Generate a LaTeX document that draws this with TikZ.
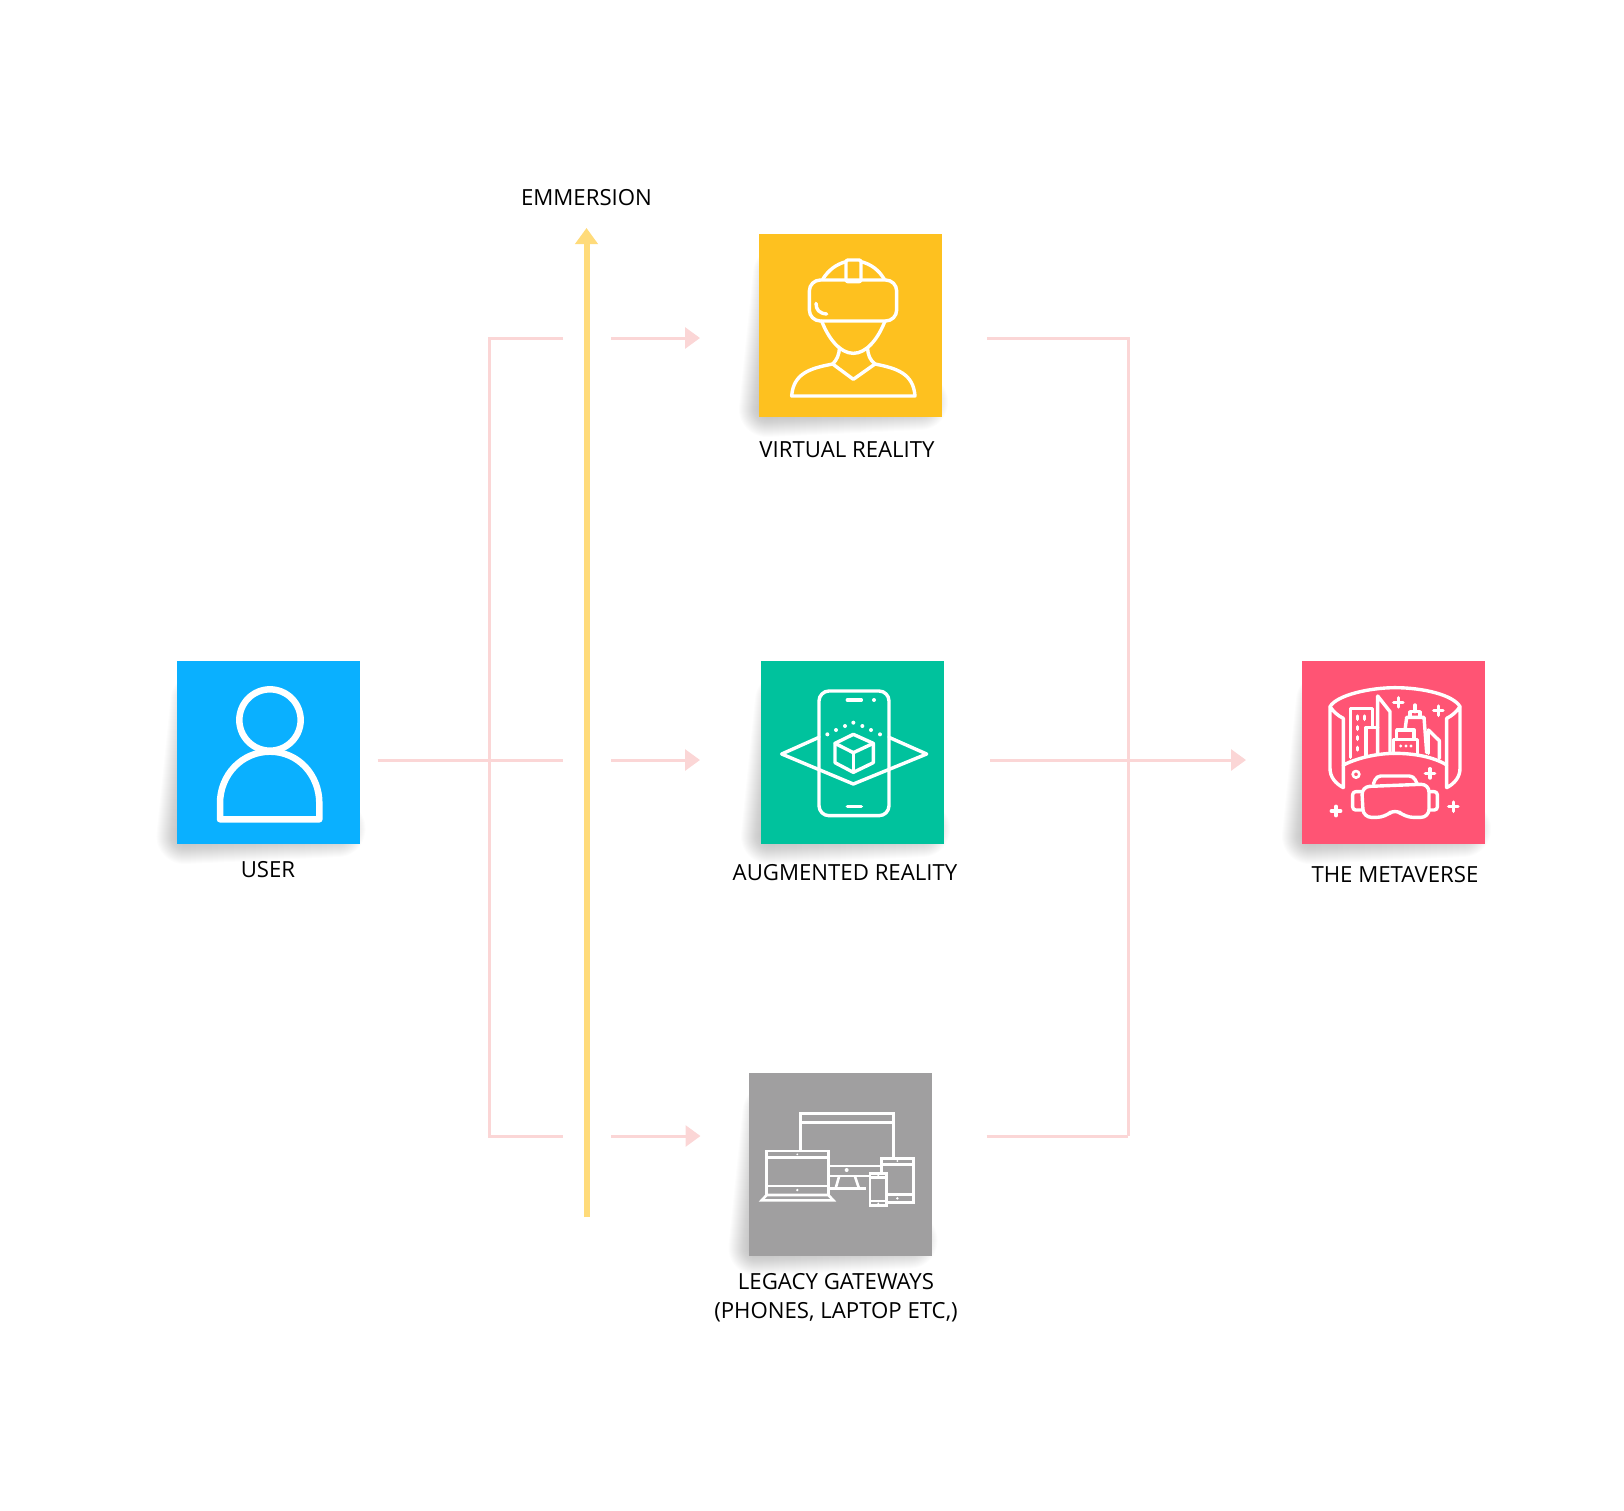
\documentclass[tikz,border=0pt]{standalone}
\usepackage{fontspec}
\setmainfont{Open Sans}
\usetikzlibrary{arrows.meta,backgrounds,calc,positioning}
\definecolor{userblue}{HTML}{0AB0FF}
\definecolor{vramber}{HTML}{FEC11F}
\definecolor{argreen}{HTML}{00C29D}
\definecolor{legacygray}{HTML}{A09FA0}
\definecolor{metared}{HTML}{FF5474}
\definecolor{linkpink}{HTML}{FBD6D6}
\definecolor{risingyellow}{HTML}{FFDB7A}
\tikzset{
    card/.style={minimum size=183pt,inner sep=0pt,outer sep=0pt},
    cardlabel/.style={inner sep=0pt,font=\fontsize{22.2}{29}\selectfont,align=center,text=black},
    link/.style={draw=linkpink,line width=3pt},
    linktip/.style={link,-{Triangle[length=15pt,width=21pt]}},
    icon/.style={draw=white,line width=3.4pt,line join=round,line cap=round},
    thinicon/.style={draw=white,line width=2.6pt,line join=miter},
    zoomed/.style={shift={(#1)},x=0.33333pt,y=-0.33333pt}
}
% soft shadow, thrown to the lower left of a card
\newcommand{\cardshadow}[1]{
    \begin{scope}[on background layer]
        \foreach \w in {2,4,...,56}
            \draw[black,opacity=.011,line width=\w pt,line join=round]
                ($(#1.north west)+(22,40)$) -- ($(#1.south west)+(8,-8)$) -- ($(#1.south east)+(-22,-15)$) -- cycle;
    \end{scope}
}
\begin{document}
\begin{tikzpicture}[x=1pt,y=-1pt]
    \useasboundingbox (0,0) rectangle (1624,1510);

    \node[card,fill=userblue] (user) at (268,752.5) {};
    \node[card,fill=vramber] (vr) at (850.5,325.5) {};
    \node[card,fill=argreen] (ar) at (852.5,752.5) {};
    \node[card,fill=legacygray] (legacy) at (840,1164) {};
    \node[card,fill=metared] (meta) at (1393.5,752.5) {};
    \cardshadow{user}
    \cardshadow{vr}
    \cardshadow{ar}
    \cardshadow{legacy}
    \cardshadow{meta}

    \node[cardlabel] (userlabel) at (268,869.5) {USER};
    \node[cardlabel] (vrlabel) at (847,450) {VIRTUAL REALITY};
    \node[cardlabel] (arlabel) at (845,873) {AUGMENTED REALITY};
    \node[cardlabel] (legacylabel) at (836,1298) {LEGACY GATEWAYS\\(PHONES, LAPTOP ETC,)};
    \node[cardlabel] (metalabel) at (1395,875) {THE METAVERSE};
    \node[cardlabel] (risinglabel) at (586.5,198) {EMMERSION};

    % junctions and the gap round the rising arrow
    \coordinate (leftup) at (489,338);
    \coordinate (leftmid) at (489,760);
    \coordinate (leftdown) at (489,1136);
    \coordinate (rightup) at (1128,338);
    \coordinate (rightmid) at (1128,760);
    \coordinate (rightdown) at (1128,1136);
    \coordinate (gapin) at (563,0);
    \coordinate (gapout) at (611,0);
    \coordinate (risingstart) at (586.5,1217);
    \coordinate (risingend) at (586.5,228);

    \draw[link] (user.east |- leftmid) [shorten <=18pt] -- (gapin |- leftmid);
    \draw[link] (gapin |- leftup) -- (leftup) -- (leftdown) -- (gapin |- leftdown);
    \draw[linktip,shorten >=59pt] (gapout |- leftup) -- (vr.west |- leftup);
    \draw[linktip,shorten >=61pt] (gapout |- leftmid) -- (ar.west |- leftmid);
    \draw[linktip,shorten >=48pt] (gapout |- leftdown) -- (legacy.west |- leftdown);
    \draw[link,shorten <=45pt] (vr.east |- rightup) -- (rightup) -- (rightdown);
    \draw[link,shorten <=55pt] (legacy.east |- rightdown) -- (rightdown);
    \draw[linktip,shorten <=46pt,shorten >=56pt] (ar.east |- rightmid) -- (meta.west |- rightmid);
    \draw[draw=risingyellow,line width=6pt,-{Triangle[length=16pt,width=22pt]}] (risingstart) -- (risingend);

    % user icon
    \begin{scope}[zoomed={150,640}]
        \draw[icon,line width=6.5pt] (360,240) circle (92);
        \draw[icon,line width=6.5pt] (210,538) -- (210,490) .. controls (210,405) and (275,335) .. (360,335)
            .. controls (445,335) and (508,405) .. (508,490) -- (508,538) -- cycle;
    \end{scope}

    % headset icon
    \begin{scope}[zoomed={720,210}]
        \draw[icon,rounded corners=11pt] (268,210) rectangle (530,333);
        \draw[icon,rounded corners=2pt] (378,150) rectangle (423,215);
        \draw[icon] (308,208) .. controls (325,180) and (350,162) .. (378,155);
        \draw[icon] (423,155) .. controls (452,162) and (477,180) .. (493,208);
        \draw[icon] (288,280) .. controls (288,300) and (298,310) .. (320,312);
        \draw[icon] (305,333) .. controls (325,385) and (360,430) .. (400,430)
            .. controls (440,430) and (475,385) .. (495,333);
        \draw[icon] (358,412) .. controls (358,435) and (350,450) .. (338,462);
        \draw[icon] (443,412) .. controls (443,435) and (450,450) .. (465,462);
        \draw[icon] (338,462) -- (400,508) -- (465,462);
        \draw[icon] (338,462) .. controls (270,475) and (220,490) .. (215,558) -- (585,558)
            .. controls (580,490) and (530,475) .. (465,462);
    \end{scope}

    % phone and cube icon
    \begin{scope}[zoomed={720,640}]
        \draw[icon,rounded corners=10pt] (297,153) rectangle (507,527);
        \draw[icon] (382,180) -- (424,180);
        \draw[icon] (382,500) -- (424,500);
        \fill[white] (462,180) circle (6);
        \foreach \dotx/\doty in {322/283,348/270,375/258,400/248,427/258,453/270,480/283}
            \fill[white] (\dotx,\doty) circle (6);
        \draw[icon] (297,292) -- (185,342) -- (400,432) -- (620,342) -- (507,292);
        \draw[icon] (400,283) -- (460,310) -- (460,368) -- (400,397) -- (345,368) -- (345,310) -- cycle;
        \draw[icon] (345,310) -- (400,338) -- (460,310);
        \draw[icon] (400,338) -- (400,397);
    \end{scope}

    % screens icon
    \begin{scope}[zoomed={710,1060}]
        \draw[thinicon] (272,290) -- (272,160) -- (550,160) -- (550,300);
        \draw[thinicon] (272,187) -- (550,187);
        \draw[thinicon] (355,318) -- (515,318);
        \draw[thinicon] (355,348) -- (480,348);
        \fill[white] (410,330) circle (6);
        \draw[thinicon] (387,350) -- (377,385);
        \draw[thinicon] (435,350) -- (447,385);
        \draw[thinicon] (360,385) -- (468,385);
        \draw[thinicon,fill=legacygray] (170,405) -- (170,273) -- (355,273) -- (355,405);
        \draw[thinicon] (170,292) -- (355,292);
        \draw[thinicon] (170,378) -- (355,378);
        \draw[thinicon] (170,405) -- (155,421) -- (370,421) -- (355,405) -- cycle;
        \fill[white] (262,283) circle (3) (262,390) circle (4);
        \draw[thinicon,fill=legacygray] (515,295) rectangle (610,428);
        \draw[thinicon] (515,313) -- (610,313);
        \draw[thinicon] (515,403) -- (610,403);
        \fill[white] (562,303) circle (3) (562,415) circle (4);
        \draw[thinicon,fill=legacygray] (480,340) rectangle (530,437);
        \draw[thinicon] (480,352) -- (530,352);
        \draw[thinicon] (480,423) -- (530,423);
        \fill[white] (505,346) circle (3) (505,430) circle (3);
    \end{scope}

    % city in a ring and goggles icon
    \begin{scope}[zoomed={1280,640}]
        \draw[icon] (150,200) .. controls (170,165) and (270,143) .. (345,143)
            .. controls (430,143) and (520,165) .. (540,200);
        \draw[icon] (150,200) .. controls (160,215) and (175,228) .. (190,235) -- (190,443)
            .. controls (165,430) and (150,410) .. (150,385) -- cycle;
        \draw[icon] (540,200) .. controls (530,215) and (515,228) .. (500,235) -- (500,443)
            .. controls (525,430) and (540,410) .. (540,385) -- cycle;
        \draw[icon] (190,375) .. controls (240,350) and (300,340) .. (345,340)
            .. controls (400,340) and (460,350) .. (500,375);
        \draw[icon] (211,352) -- (211,205) -- (278,205) -- (278,262);
        \draw[icon] (258,348) -- (258,262) -- (293,262);
        \draw[icon] (293,343) -- (293,168) -- (330,215) -- (330,340);
        \draw[icon] (233,228) -- (233,238);
        \draw[icon] (253,228) -- (253,238);
        \draw[icon] (233,260) -- (233,268);
        \draw[icon] (233,290) -- (233,298);
        \draw[icon] (233,322) -- (233,330);
        \draw[icon] (340,340) -- (340,298) -- (412,298) -- (412,340);
        \draw[icon] (350,298) -- (350,270) -- (402,270) -- (402,298);
        \draw[icon] (375,270) -- (380,232) -- (432,232) -- (440,338);
        \draw[icon] (390,230) -- (390,215) -- (420,215) -- (420,230);
        \draw[icon] (405,215) -- (405,195);
        \draw[icon] (445,270) -- (478,302) -- (478,355);
        \draw[icon] (445,270) -- (445,340);
        \fill[white] (362,318) circle (5) (378,318) circle (5) (393,318) circle (5);
        \foreach \starx/\stary in {355/187,475/212,450/400,168/513,520/500}
            \draw[icon] (\starx-14,\stary) -- (\starx+14,\stary) (\starx,\stary-14) -- (\starx,\stary+14);
        \draw[icon,line width=2.6pt] (228,403) circle (10);
        \draw[icon,rounded corners=8pt] (345,505) -- (315,532) -- (250,532) -- (245,440) -- (447,432) -- (447,532) -- (375,532) -- cycle;
        \draw[icon,rounded corners=4pt] (280,432) -- (290,408) -- (400,408) -- (412,432);
        \draw[icon,rounded corners=3pt] (245,455) -- (218,455) -- (218,510) -- (245,510);
        \draw[icon,rounded corners=3pt] (447,455) -- (472,455) -- (472,510) -- (447,510);
    \end{scope}
\end{tikzpicture}
\end{document}
